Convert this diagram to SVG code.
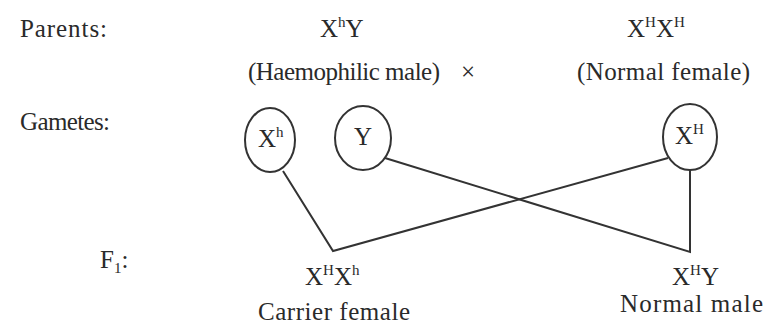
<svg xmlns="http://www.w3.org/2000/svg" width="765" height="330" viewBox="0 0 765 330">
<style>
text{font-family:"Liberation Serif","Times New Roman",serif;fill:#2a2a2a;font-size:25px}
.sup{font-size:15px}
.g{fill:none;stroke:#333;stroke-width:2}
.c{fill:none;stroke:#333;stroke-width:2;stroke-linejoin:miter}
</style>
<rect width="765" height="330" fill="#fff"/>
<g id="labels">
<text x="20" y="37" textLength="87">Parents:</text>
<text x="20" y="130" textLength="90">Gametes:</text>
<text x="100" y="268">F<tspan class="sup" dy="5">1</tspan><tspan dy="-5">:</tspan></text>
</g>
<g id="father">
<text x="320" y="37">X<tspan class="sup" dy="-10">h</tspan><tspan dy="10">Y</tspan></text>
<text x="248" y="80" textLength="192">(Haemophilic male)</text>
</g>
<g id="cross"><text x="461" y="80" font-size="20">×</text></g>
<g id="mother">
<text x="627" y="37">X<tspan class="sup" dy="-10">H</tspan><tspan dy="10">X</tspan><tspan class="sup" dy="-10">H</tspan></text>
<text x="577" y="80" textLength="173">(Normal female)</text>
</g>
<g id="gamete-Xh">
<ellipse class="g" cx="270" cy="140" rx="25" ry="32"/>
<text x="258" y="147">X<tspan class="sup" dy="-10">h</tspan></text>
</g>
<g id="gamete-Y">
<ellipse class="g" cx="363" cy="138" rx="28" ry="32"/>
<text x="354" y="145">Y</text>
</g>
<g id="gamete-XH">
<ellipse class="g" cx="690" cy="137" rx="27" ry="33"/>
<text x="675" y="144">X<tspan class="sup" dy="-10">H</tspan></text>
</g>
<g id="connectors">
<polyline class="c" points="283,171 333,251 668,158"/>
<polyline class="c" points="385,158 690,252 690,170"/>
</g>
<g id="f1-female">
<text x="305" y="285">X<tspan class="sup" dy="-10">H</tspan><tspan dy="10">X</tspan><tspan class="sup" dy="-10">h</tspan></text>
<text x="258" y="320" textLength="152">Carrier female</text>
</g>
<g id="f1-male">
<text x="672" y="285">X<tspan class="sup" dy="-10">H</tspan><tspan dy="10">Y</tspan></text>
<text x="620" y="312" textLength="143">Normal male</text>
</g>
</svg>
